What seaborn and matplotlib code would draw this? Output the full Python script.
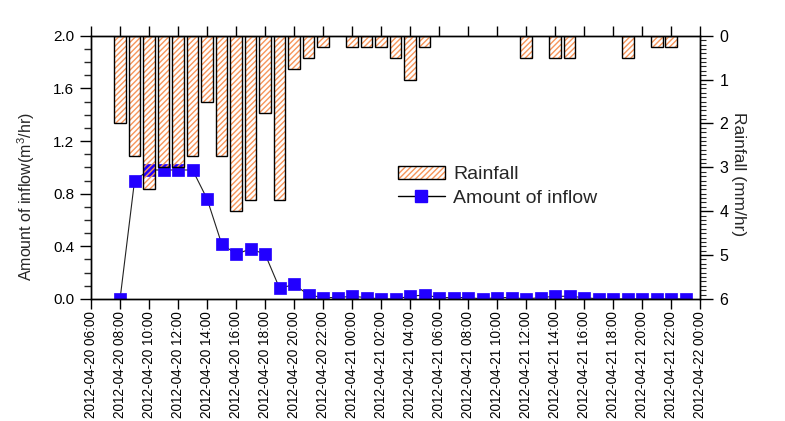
import numpy as np
import pandas as pd
import matplotlib
matplotlib.use("Agg")
import matplotlib.pyplot as plt
import seaborn as sns
from matplotlib.ticker import MultipleLocator, FormatStrFormatter
from matplotlib.patches import Patch
from matplotlib.lines import Line2D

# periodo do grafico
t0 = pd.Timestamp("2012-04-20 06:00")
t_fim = pd.Timestamp("2012-04-22 00:00")
horarios = pd.date_range("2012-04-20 08:00", "2012-04-21 23:00", freq="h")

# chuva (mm/hr) por hora
rainfall = [2.0, 2.75, 3.5, 3.0, 3.0, 2.75, 1.5, 2.75, 4.0, 3.75, 1.75, 3.75, 0.75, 0.5,
            0.25, 0.0, 0.25, 0.25, 0.25, 0.5, 1.0, 0.25,
            0.0, 0.0, 0.0, 0.0, 0.0, 0.0, 0.5, 0.0, 0.5, 0.5, 0.0, 0.0, 0.0, 0.5, 0.0,
            0.25, 0.25, 0.0]
# vazao de entrada (m3/hr)
inflow = [0.0, 0.90, 0.98, 0.98, 0.98, 0.98, 0.76, 0.42, 0.34, 0.38, 0.34, 0.08, 0.11, 0.03,
          0.01, 0.01, 0.02, 0.01, 0.0, 0.0, 0.02, 0.03,
          0.01, 0.01, 0.01, 0.0, 0.01, 0.01, 0.0, 0.01, 0.02, 0.02, 0.01, 0.0, 0.0, 0.0, 0.0,
          0.0, 0.0, 0.0]

tick_horarios = pd.date_range(t0, t_fim, freq="2h")
tick_labels = [t.strftime("%Y-%m-%d %H:%M") for t in tick_horarios]

laranja = "#F7955A"
azul = "#2200FF"
hachura = "//////"

sns.set_style("white")
plt.rcParams["font.family"] = ["Liberation Sans", "DejaVu Sans"]
plt.rcParams["mathtext.default"] = "regular"
plt.rcParams["hatch.linewidth"] = 1.0

df = pd.DataFrame({
    "h": (horarios - t0) / pd.Timedelta(hours=1),
    "rain": rainfall,
    "inflow": inflow,
})
df_chuva = df[df["rain"] > 0]

fig = plt.figure(figsize=(7.85, 4.21), dpi=100)
ax1 = fig.add_axes([0.116, 0.29, 0.776, 0.625])
ax2 = ax1.twinx()

sns.lineplot(data=df, x="h", y="inflow", ax=ax1, color="#222222", linewidth=0.8,
             marker="s", markersize=8.5, markerfacecolor=azul, markeredgecolor=azul,
             markeredgewidth=0.5, errorbar=None)

# barras: hachura laranja + contorno preto
sns.barplot(data=df_chuva, x="h", y="rain", native_scale=True, orient="x",
            errorbar=None, ax=ax2, color=laranja, width=0.8)
n = len(ax2.patches)
for p in ax2.patches:
    p.set_facecolor("none")
    p.set_edgecolor(laranja)
    p.set_hatch(hachura)
    p.set_linewidth(0)
sns.barplot(data=df_chuva, x="h", y="rain", native_scale=True, orient="x",
            errorbar=None, ax=ax2, color="black", width=0.8)
for p in ax2.patches[n:]:
    p.set_facecolor("none")
    p.set_edgecolor("black")
    p.set_linewidth(1.0)

ax1.set_xlim(0, 42)
ax1.set_ylim(0, 2)
ax2.set_ylim(6, 0)

ax1.set_xticks((tick_horarios - t0) / pd.Timedelta(hours=1))
ax1.set_xticklabels(tick_labels, rotation=90, fontsize=9.8)
ax1.yaxis.set_major_locator(MultipleLocator(0.4))
ax1.yaxis.set_minor_locator(MultipleLocator(0.1))
ax1.yaxis.set_major_formatter(FormatStrFormatter("%.1f"))
ax2.yaxis.set_major_locator(MultipleLocator(1))
ax2.yaxis.set_minor_locator(MultipleLocator(0.1))
ax2.yaxis.set_major_formatter(FormatStrFormatter("%d"))

ax1.tick_params(axis="x", which="major", direction="out", length=7, width=1,
                top=True, bottom=True, pad=2, colors="black")
ax1.tick_params(axis="y", which="major", direction="out", length=8, width=1,
                labelsize=11, pad=4, left=True, colors="black")
ax1.tick_params(axis="y", which="minor", direction="out", length=5, width=1, left=True)
ax2.tick_params(axis="y", which="major", direction="out", length=9, width=1,
                labelsize=11.5, pad=5, right=True, colors="black")
ax2.tick_params(axis="y", which="minor", direction="out", length=4, width=0.8, right=True)

for ax in (ax1, ax2):
    for s in ax.spines.values():
        s.set_color("black")
        s.set_linewidth(1.0)
    ax.set_xlabel("")

ax1.set_ylabel("Amount of inflow(m$^3$/hr)", fontsize=11.5)
ax1.yaxis.set_label_coords(-0.088, 0.39)
ax2.set_ylabel("Rainfall (mm/hr)", fontsize=12.5, rotation=270, va="bottom")
ax2.yaxis.set_label_coords(1.051, 0.475)

h_chuva = (Patch(facecolor="none", edgecolor=laranja, hatch=hachura, linewidth=0),
           Patch(facecolor="none", edgecolor="black", linewidth=1.0))
h_vazao = Line2D([], [], color="black", linewidth=1, marker="s", markersize=8.5,
                 markerfacecolor=azul, markeredgecolor=azul)
ax2.legend([h_chuva, h_vazao], ["Rainfall", "Amount of inflow"], loc="upper left",
           bbox_to_anchor=(0.507, 0.606), bbox_transform=fig.transFigure,
           frameon=False, fontsize=14, handlelength=2.4, handletextpad=0.45,
           labelspacing=0.3, borderpad=0, borderaxespad=0)

fig.savefig("out.png", dpi=100)
